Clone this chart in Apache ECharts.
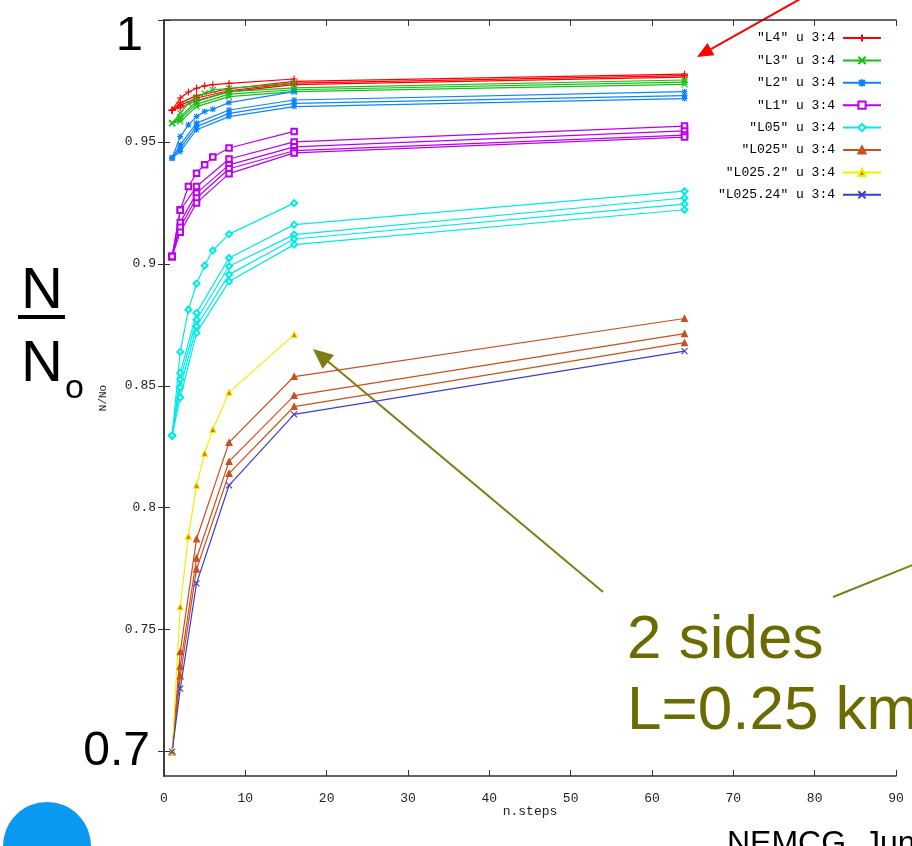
<!DOCTYPE html>
<html>
<head>
<meta charset="utf-8">
<script src="https://cdn.jsdelivr.net/npm/echarts@6/dist/echarts.min.js"></script>
<style>
html,body{margin:0;padding:0;background:#fff;}
#chart{width:912px;height:846px;}
</style>
</head>
<body>
<div id="chart"></div>
<script>
// ---------- data ----------
const legendNames = ['"L4" u 3:4', '"L3" u 3:4', '"L2" u 3:4', '"L1" u 3:4', '"L05" u 3:4', '"L025" u 3:4', '"L025.2" u 3:4', '"L025.24" u 3:4'];
const xTickValues = [0, 10, 20, 30, 40, 50, 60, 70, 80, 90];
const yTickValues = [0.7, 0.75, 0.8, 0.85, 0.9, 0.95, 1];

const stepsFine = [1, 2, 3, 4, 5, 6, 8, 16];
const stepsCoarse = [1, 2, 4, 8, 16, 64];

// L4
const L4_a = [0.963, 0.968, 0.9705, 0.972, 0.973, 0.9735, 0.974, 0.9758];
const L4_b = [0.963, 0.966, 0.969, 0.9718, 0.9748, 0.9778];
const L4_c = [0.963, 0.965, 0.968, 0.971, 0.9741, 0.9772];
const L4_d = [0.963, 0.964, 0.967, 0.9705, 0.9735, 0.9766];
// L3
const L3_a = [0.9577, 0.9618, 0.9659, 0.9683, 0.970, 0.9713, 0.972, 0.9741];
const L3_b = [0.9577, 0.9604, 0.9666, 0.9706, 0.9722, 0.9754];
const L3_c = [0.9577, 0.9595, 0.9655, 0.9696, 0.9714, 0.9745];
const L3_d = [0.9577, 0.9584, 0.9645, 0.9686, 0.9706, 0.9736];
// L2
const L2_a = [0.9434, 0.9522, 0.957, 0.9604, 0.9625, 0.9634, 0.9661, 0.9706];
const L2_b = [0.9434, 0.9488, 0.9577, 0.9631, 0.9672, 0.9706];
const L2_c = [0.9434, 0.9475, 0.9563, 0.9617, 0.9658, 0.969];
const L2_d = [0.9434, 0.9461, 0.955, 0.9604, 0.9645, 0.9678];
// L1
const L1_a = [0.903, 0.9222, 0.9317, 0.9372, 0.9406, 0.9438, 0.9475, 0.9543];
const L1_b = [0.903, 0.922, 0.9317, 0.943, 0.950, 0.9565];
const L1_c = [0.903, 0.917, 0.929, 0.9406, 0.948, 0.9545];
const L1_d = [0.903, 0.915, 0.927, 0.939, 0.9464, 0.9528];
const L1_e = [0.903, 0.913, 0.925, 0.937, 0.9455, 0.952];
// L05
const L05_a = [0.8296, 0.8639, 0.8812, 0.8919, 0.8993, 0.9055, 0.9122, 0.9249];
const L05_b = [0.8296, 0.8553, 0.8799, 0.9024, 0.9161, 0.9298];
const L05_c = [0.8296, 0.8526, 0.8771, 0.899, 0.912, 0.927];
const L05_d = [0.8296, 0.8493, 0.8744, 0.8956, 0.9102, 0.9245];
const L05_e = [0.8296, 0.8452, 0.8717, 0.8928, 0.9079, 0.9222];
// L025
const L025_a = [0.70, 0.741, 0.7872, 0.8268, 0.8538, 0.8776];
const L025_b = [0.70, 0.735, 0.7793, 0.819, 0.846, 0.8714];
const L025_c = [0.70, 0.731, 0.7748, 0.8141, 0.8415, 0.8677];
// L025.2
const L0252_a = [0.70, 0.7594, 0.7883, 0.8092, 0.8223, 0.8321, 0.8473, 0.871];
// L025.24
const L02524_a = [0.70, 0.7258, 0.769, 0.8092, 0.8383, 0.8642];

const curves = [
  [0, stepsFine, L4_a], [0, stepsCoarse, L4_b], [0, stepsCoarse, L4_c], [0, stepsCoarse, L4_d],
  [1, stepsFine, L3_a], [1, stepsCoarse, L3_b], [1, stepsCoarse, L3_c], [1, stepsCoarse, L3_d],
  [2, stepsFine, L2_a], [2, stepsCoarse, L2_b], [2, stepsCoarse, L2_c], [2, stepsCoarse, L2_d],
  [3, stepsFine, L1_a], [3, stepsCoarse, L1_b], [3, stepsCoarse, L1_c], [3, stepsCoarse, L1_d], [3, stepsCoarse, L1_e],
  [4, stepsFine, L05_a], [4, stepsCoarse, L05_b], [4, stepsCoarse, L05_c], [4, stepsCoarse, L05_d], [4, stepsCoarse, L05_e],
  [5, stepsCoarse, L025_a], [5, stepsCoarse, L025_b], [5, stepsCoarse, L025_c],
  [6, stepsFine, L0252_a],
  [7, stepsCoarse, L02524_a]
];

// ---------- styles ----------
const PLUS = 'path://M0,-5L0,5M-5,0L5,0';
const CROSS = 'path://M-5,-5L5,5M-5,5L5,-5';
const STAR = 'path://M0,-5L0,5M-5,0L5,0M-4,-4L4,4M-4,4L4,-4';
const groupStyles = [
  {color: '#ff0000', symbol: PLUS, fill: '#ff0000', size: 7},
  {color: '#14c014', symbol: CROSS, fill: '#14c014', size: 6},
  {color: '#0a84ff', symbol: STAR, fill: '#0a84ff', size: 6},
  {color: '#bb00ee', symbol: 'emptyRect', fill: null, size: 5.5},
  {color: '#00eaea', symbol: 'emptyDiamond', fill: null, size: 6},
  {color: '#c8501e', symbol: 'triangle', fill: '#c8501e', size: 6},
  {color: '#f2ee00', symbol: 'triangle', fill: '#d8700a', size: 6},
  {color: '#3c3cd2', symbol: CROSS, fill: '#3c3cd2', size: 6}
];

const series = curves.map(([g, steps, vals]) => {
  const st = groupStyles[g];
  return {
    type: 'line',
    name: legendNames[g],
    data: steps.map((s, i) => [s, vals[i]]),
    symbol: st.symbol,
    symbolSize: st.size,
    showSymbol: true,
    lineStyle: {color: st.color, width: 1.2},
    itemStyle: st.fill ? {color: st.fill, borderColor: st.color, borderWidth: 1.1}
                       : {color: st.color, borderColor: st.color, borderWidth: 1.1},
    emphasis: {disabled: true},
    z: 2
  };
});

function arrowHead(x1, y1, x2, y2, len, half) {
  const dx = x2 - x1, dy = y2 - y1, L = Math.hypot(dx, dy);
  const ux = dx / L, uy = dy / L;
  const bx = x2 - ux * len, by = y2 - uy * len;
  return {base: [bx, by], pts: [[x2, y2], [bx - uy * half, by + ux * half], [bx + uy * half, by - ux * half]]};
}
const oliveA = arrowHead(603, 592, 313, 349, 20, 9);
const redA = arrowHead(802, -2, 697, 57, 16, 7);

const tickFont = {fontFamily: 'Liberation Mono', fontSize: 13, color: '#222'};
const frame = {lineStyle: {color: '#333', width: 1.5}};

const chart = echarts.init(document.getElementById('chart'));
chart.setOption({
  animation: false,
  backgroundColor: '#fff',
  grid: {left: 164, right: 16, top: 20, bottom: 70, containLabel: false},
  legend: {
    orient: 'vertical', right: 25, top: 26, align: 'right',
    itemWidth: 38, itemHeight: 9, itemGap: 8.4,
    selectedMode: false,
    data: legendNames,
    textStyle: {fontFamily: 'Liberation Mono', fontSize: 13, color: '#000', lineHeight: 14, padding: [0, 3, 0, 0]}
  },
  xAxis: [
    {
      type: 'value', min: 0, max: 90, interval: 10, position: 'bottom',
      name: 'n.steps', nameLocation: 'middle', nameGap: 29, nameMoveOverlap: false,
      nameTextStyle: tickFont,
      axisLine: frame,
      axisTick: {inside: true, length: 6, lineStyle: {color: '#333'}},
      axisLabel: Object.assign({margin: 16}, tickFont),
      splitLine: {show: false}
    },
    {
      type: 'value', min: 0, max: 90, interval: 10, position: 'top',
      axisLine: frame,
      axisTick: {inside: true, length: 6, lineStyle: {color: '#333'}},
      axisLabel: {show: false},
      splitLine: {show: false}
    }
  ],
  yAxis: [
    {
      type: 'value', min: 0.69, max: 1, position: 'left',
      name: 'N/No', nameLocation: 'middle', nameGap: 55, nameRotate: 90, nameMoveOverlap: false,
      nameTextStyle: {fontFamily: 'Liberation Mono', fontSize: 11, color: '#222'},
      axisLine: frame,
      axisTick: {inside: true, length: 6, customValues: yTickValues, lineStyle: {color: '#333'}},
      axisLabel: Object.assign({
        margin: 8,
        customValues: yTickValues,
        formatter: v => {
          if (Math.abs(v - 0.7) < 1e-9) return '{big|0.7}';
          if (Math.abs(v - 1) < 1e-9) return '{one|1}';
          return String(+v.toFixed(2));
        },
        rich: {
          big: {fontFamily: 'Liberation Sans', fontSize: 48, color: '#000', padding: [0, 6, 0, 0]},
          one: {fontFamily: 'Liberation Sans', fontSize: 49, color: '#000', padding: [32, 13, 0, 0]}
        }
      }, tickFont),
      splitLine: {show: false}
    },
    {
      type: 'value', min: 0.69, max: 1, position: 'right',
      axisLine: frame,
      axisTick: {inside: true, length: 6, customValues: yTickValues, lineStyle: {color: '#333'}},
      axisLabel: {show: false},
      splitLine: {show: false}
    }
  ],
  series: series,
  graphic: [
    // N / N_o fraction
    {type: 'text', left: 21, top: 263, style: {text: 'N', font: '58px "Liberation Sans"', fill: '#000'}},
    {type: 'line', shape: {x1: 18, y1: 317, x2: 65, y2: 317}, style: {stroke: '#000', lineWidth: 4}},
    {type: 'text', left: 21, top: 336, style: {text: 'N', font: '58px "Liberation Sans"', fill: '#000'}},
    {type: 'text', left: 65, top: 372, style: {text: 'o', font: '34px "Liberation Sans"', fill: '#000'}},
    // olive annotation
    {type: 'text', left: 627, top: 610, style: {text: '2 sides', font: '62px "Liberation Sans"', fill: '#6b6b00'}},
    {type: 'text', left: 627, top: 681, style: {text: 'L=0.25 km', font: '62px "Liberation Sans"', fill: '#6b6b00'}},
    {type: 'line', shape: {x1: 603, y1: 592, x2: oliveA.base[0], y2: oliveA.base[1]}, style: {stroke: '#7d7d14', lineWidth: 2}},
    {type: 'polygon', shape: {points: oliveA.pts}, style: {fill: '#7d7d14'}},
    {type: 'line', shape: {x1: 833, y1: 597, x2: 915, y2: 564}, style: {stroke: '#7d7d14', lineWidth: 2}},
    // red arrow to legend
    {type: 'line', shape: {x1: 802, y1: -2, x2: redA.base[0], y2: redA.base[1]}, style: {stroke: '#ff0000', lineWidth: 2}},
    {type: 'polygon', shape: {points: redA.pts}, style: {fill: '#ff0000'}},
    // slide decorations
    {type: 'circle', shape: {cx: 47, cy: 846, r: 44}, style: {fill: '#0a99f0'}},
    {type: 'text', left: 727, top: 828, style: {text: 'NEMCG, Jun', font: '32px "Liberation Sans"', fill: '#000'}}
  ]
});
</script>
</body>
</html>
